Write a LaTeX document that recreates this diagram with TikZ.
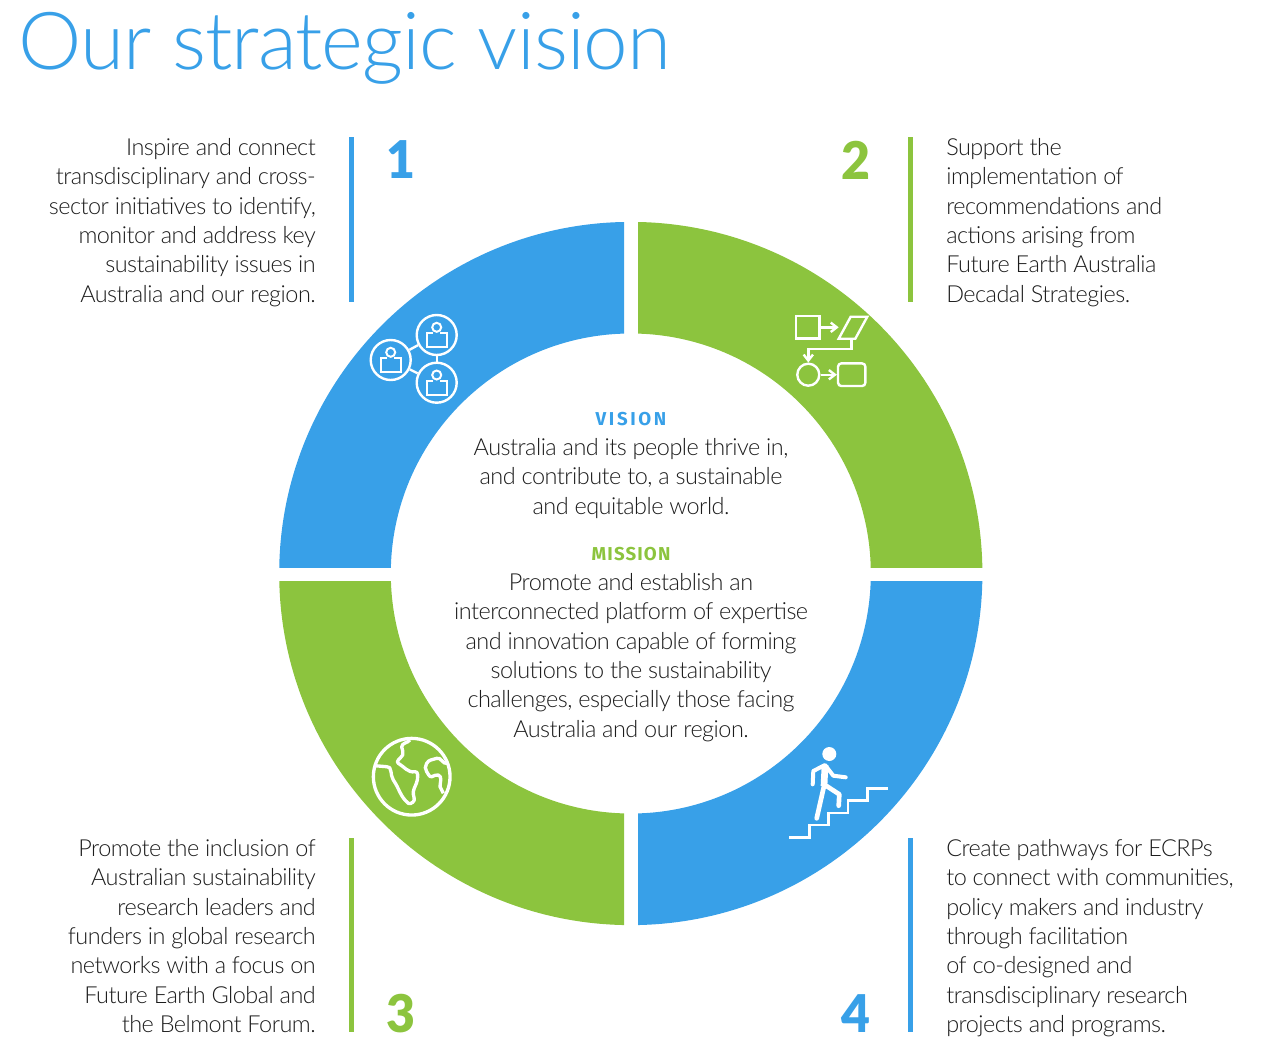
\documentclass[tikz,border=0pt]{standalone}
\usepackage{fontspec}
\setmainfont{Lato Light}[LetterSpace=-1.2]
\newfontfamily\bodyfont{Lato Light}[LetterSpace=-2.2]
\newfontfamily\headfont{Fira Sans}
\newfontfamily\numfont{Lato Black}
\usetikzlibrary{positioning, arrows.meta}
\definecolor{skyblue}{HTML}{38A0E8}
\definecolor{leafgreen}{HTML}{8CC43E}
\definecolor{inkgrey}{HTML}{1C1C1C}
\tikzset{
textblock/.style={inner sep=0pt, text=inkgrey, font=\bodyfont\fontsize{17.6}{22}\selectfont},
leftblock/.style={textblock, anchor=north east, align=right},
rightblock/.style={textblock, anchor=north west, align=left},
midblock/.style={textblock, anchor=north, align=center},
heading/.style={inner sep=0pt, anchor=base, font=\headfont\bfseries\fontsize{14}{18}\selectfont},
number/.style={inner sep=0pt, anchor=center, xscale=0.96, transform shape, font=\numfont\fontsize{39}{40}\selectfont},
bar/.style={line width=3.75pt},
icon/.style={draw=white, line width=1.8pt},
tip/.style={-{Straight Barb[length=4.5pt, width=7pt]}},
}

\begin{document}
\begin{tikzpicture}[x=0.75pt, y=-0.75pt]
    \useasboundingbox (0,0) rectangle (1273,1050);

    \node[inner sep=0pt, anchor=base west, text=skyblue, font=\fontsize{60}{60}\selectfont] (title) at (18,69) {Our strategic vision};

    % ring, one quarter at a time
    \foreach \xa/\ya/\xb/\yb/\col in {279/222/624/567/skyblue, 638/222/983/567/leafgreen, 279/581/624/925/leafgreen, 638/581/983/925/skyblue} {
        \begin{scope}
            \clip (\xa,\ya) rectangle (\xb,\yb);
            \fill[\col, even odd rule] (630.8,573.5) circle [radius=351.6] (630.8,573.5) circle [radius=240];
        \end{scope}
    }

    % bars
    \draw[bar, skyblue] (351.5,137) -- (351.5,302);
    \draw[bar, leafgreen] (910.5,137) -- (910.5,302);
    \draw[bar, leafgreen] (351.5,838) -- (351.5,1032);
    \draw[bar, skyblue] (910.5,838) -- (910.5,1032);

    % numbers
    \node[number, text=skyblue] (n1) at (401,160) {1};
    \node[number, text=leafgreen] (n2) at (856,160) {2};
    \node[number, text=leafgreen] (n3) at (401,1014) {3};
    \node[number, text=skyblue] (n4) at (855.5,1014) {4};

    % side texts
    \node[leftblock] (t1) at (316,138) {Inspire and connect\\transdisciplinary and cross-\\sector initiatives to identify,\\monitor and address key\\sustainability issues in\\Australia and our region.};
    \node[rightblock] (t2) at (946,138) {Support the\\implementation of\\recommendations and\\actions arising from\\Future Earth Australia\\Decadal Strategies.};
    \node[leftblock] (t3) at (316,839) {Promote the inclusion of\\Australian sustainability\\research leaders and\\funders in global research\\networks with a focus on\\Future Earth Global and\\the Belmont Forum.};
    \node[rightblock] (t4) at (946,839) {Create pathways for ECRPs\\to connect with communities,\\policy makers and industry\\through facilitation\\of co-designed and\\transdisciplinary research\\projects and programs.};

    % centre
    \node[heading, text=skyblue] (vision) at (631,425) {\addfontfeatures{LetterSpace=14}VISION};
    \node[midblock] (visiontext) at (631,438) {Australia and its people thrive in,\\and contribute to, a sustainable\\and equitable world.};
    \node[heading, text=leafgreen] (mission) at (631,560) {\addfontfeatures{LetterSpace=6}MISSION};
    \node[midblock] (missiontext) at (631,573) {Promote and establish an\\interconnected platform of expertise\\and innovation capable of forming\\solutions to the sustainability\\challenges, especially those facing\\Australia and our region.};

    % people icon
    \begin{scope}[every node/.style={icon, circle, inner sep=0pt, minimum size=30pt}]
        \node (p1) at (436.7,335) {};
        \node (p2) at (390.7,360) {};
        \node (p3) at (436.7,382.7) {};
    \end{scope}
    \draw[icon] (p1) -- (p2);
    \draw[icon] (p2) -- (p3);
    \draw[icon] (p1) -- (p3);
    \foreach \cx/\cy in {436.7/335, 390.7/360, 436.7/382.7} {
        \draw[icon, line width=1.5pt] (\cx,\cy-7.7) circle [radius=4.5];
        \draw[icon, line width=1.5pt] (\cx-3.5,\cy-2) -- (\cx-10,\cy-2) -- (\cx-10,\cy+12) -- (\cx+10,\cy+12) -- (\cx+10,\cy-2) -- (\cx+3.5,\cy-2);
    }

    % flow icon
    \node[icon, rectangle, inner sep=0pt, minimum width=17.5pt, minimum height=17pt] (box) at (807.7,327.3) {};
    \node[icon, circle, inner sep=0pt, minimum size=16.5pt] (round) at (808.3,374.7) {};
    \node[icon, rectangle, rounded corners=2.5pt, inner sep=0pt, minimum width=20.5pt, minimum height=17pt] (pill) at (851.7,374.7) {};
    \coordinate (skewin) at (838.7,327.3);
    \coordinate (skewout) at (851.3,338.7);
    \draw[icon] (850.7,316.7) -- (867.3,316.7) -- (855.3,338.7) -- (838.7,338.7) -- cycle;
    \draw[icon, tip] (box) -- (skewin);
    \draw[icon, tip] (skewout) -- (851.3,348.7) -| (round);
    \draw[icon, tip] (round) -- (pill);

    % globe icon
    \node[icon, circle, inner sep=0pt, line width=2.5pt, minimum size=57.5pt] (globe) at (411.7,776.7) {};
    \draw[icon, line width=2.5pt, line join=round] (410,740) to[out=230,in=90] (401.7,747) to[out=270,in=60] (402.7,755) to[out=240,in=150] (398.3,763.3)
        to[out=330,in=190] (415,771.7) to[out=10,in=80] (417.3,780) to[out=260,in=80] (413.3,791.7) to[out=260,in=30] (412.7,802.3) to[out=210,in=320] (408.3,803.3)
        to[out=140,in=305] (393.3,780) to[out=125,in=10] (386.7,766.7) -- (375,765.7);
    \draw[icon, line width=2.5pt, line join=round] (447.3,763.3) to[out=200,in=20] (436.7,758.3) to[out=200,in=60] (426.7,763.3) to[out=240,in=130] (426.7,771.7)
        to[out=310,in=190] (431.7,776.7) to[out=10,in=160] (438.3,775) to[out=340,in=90] (440,786.7) -- (443.3,793.3);

    % walker icon
    \fill[white] (829.3,754) circle [radius=7];
    \draw[white, line width=1.9pt, line join=miter] (789.3,837.3) -- (809.3,837.3) -- (809.3,825) -- (828.7,825) -- (828.7,813) -- (848,813) -- (848,800.7) -- (867.3,800.7) -- (867.3,788.3) -- (887.7,788.3);
    \draw[white, line width=3pt, line cap=round, line join=round] (812.7,784.3) -- (813.3,771) -- (825,765) -- (833.3,775.7) -- (845.7,777.3);
    \draw[white, line width=5pt, line join=round] (825,765) -- (824,786);
    \draw[white, line width=3.5pt, line cap=round, line join=round] (824,786) -- (816.7,818.3);
    \draw[white, line width=3.5pt, line cap=round, line join=round] (825,785) -- (839.3,794.3) -- (838.7,805.7);
\end{tikzpicture}
\end{document}
